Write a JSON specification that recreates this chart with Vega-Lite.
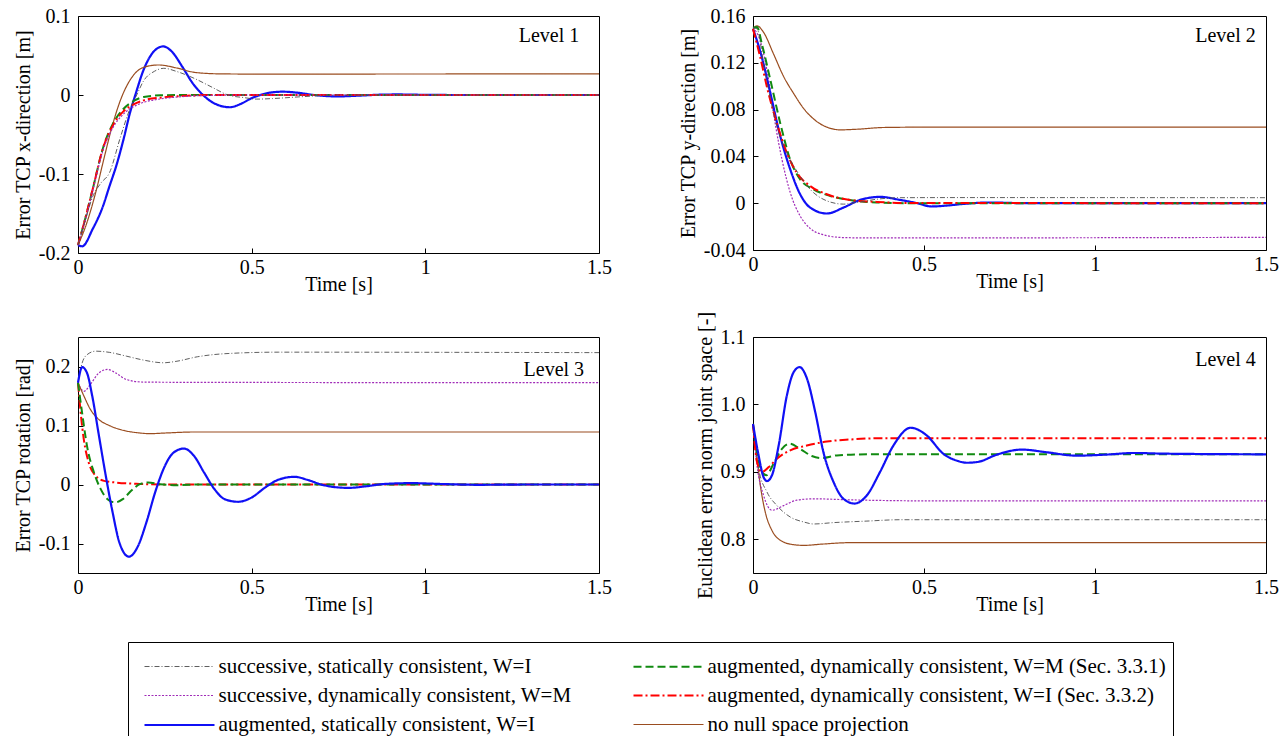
{
"$schema": "https://vega.github.io/schema/vega-lite/v6.json",
"padding": {"left": 12, "top": 5, "right": 0, "bottom": 0},
"bounds": "flush",
"columns": 2,
"spacing": {"column": 154, "row": 84},
"data": {"values": [
{"p":1,"s":"AS","t":0,"v":-0.19},{"p":1,"s":"AS","t":0.012,"v":-0.1915},{"p":1,"s":"AS","t":0.043,"v":-0.169},{"p":1,"s":"AS","t":0.07,"v":-0.143},{"p":1,"s":"AS","t":0.091,"v":-0.115},{"p":1,"s":"AS","t":0.11,"v":-0.09},{"p":1,"s":"AS","t":0.13,"v":-0.058},{"p":1,"s":"AS","t":0.15,"v":-0.022},{"p":1,"s":"AS","t":0.165,"v":0},{"p":1,"s":"AS","t":0.189,"v":0.032},{"p":1,"s":"AS","t":0.218,"v":0.055},{"p":1,"s":"AS","t":0.245,"v":0.0615},{"p":1,"s":"AS","t":0.27,"v":0.055},{"p":1,"s":"AS","t":0.3,"v":0.036},{"p":1,"s":"AS","t":0.33,"v":0.015},{"p":1,"s":"AS","t":0.36,"v":0},{"p":1,"s":"AS","t":0.39,"v":-0.01},{"p":1,"s":"AS","t":0.437,"v":-0.0155},{"p":1,"s":"AS","t":0.47,"v":-0.011},{"p":1,"s":"AS","t":0.5,"v":-0.004},{"p":1,"s":"AS","t":0.525,"v":0},{"p":1,"s":"AS","t":0.55,"v":0.0028},{"p":1,"s":"AS","t":0.59,"v":0.0042},{"p":1,"s":"AS","t":0.63,"v":0.003},{"p":1,"s":"AS","t":0.68,"v":0},{"p":1,"s":"AS","t":0.745,"v":-0.0018},{"p":1,"s":"AS","t":0.8,"v":-0.001},{"p":1,"s":"AS","t":0.87,"v":0.0004},{"p":1,"s":"AS","t":0.92,"v":0.0007},{"p":1,"s":"AS","t":1.0,"v":0.0002},{"p":1,"s":"AS","t":1.1,"v":0},{"p":1,"s":"AS","t":1.5,"v":0},
{"p":1,"s":"NN","t":0,"v":-0.19},{"p":1,"s":"NN","t":0.023,"v":-0.165},{"p":1,"s":"NN","t":0.05,"v":-0.125},{"p":1,"s":"NN","t":0.075,"v":-0.08},{"p":1,"s":"NN","t":0.095,"v":-0.045},{"p":1,"s":"NN","t":0.121,"v":-0.008},{"p":1,"s":"NN","t":0.15,"v":0.019},{"p":1,"s":"NN","t":0.189,"v":0.035},{"p":1,"s":"NN","t":0.232,"v":0.038},{"p":1,"s":"NN","t":0.286,"v":0.034},{"p":1,"s":"NN","t":0.335,"v":0.0287},{"p":1,"s":"NN","t":0.403,"v":0.0268},{"p":1,"s":"NN","t":0.5,"v":0.0265},{"p":1,"s":"NN","t":1.5,"v":0.0268},
{"p":1,"s":"AM","t":0,"v":-0.19},{"p":1,"s":"AM","t":0.02,"v":-0.158},{"p":1,"s":"AM","t":0.043,"v":-0.118},{"p":1,"s":"AM","t":0.072,"v":-0.067},{"p":1,"s":"AM","t":0.101,"v":-0.036},{"p":1,"s":"AM","t":0.13,"v":-0.018},{"p":1,"s":"AM","t":0.16,"v":-0.0076},{"p":1,"s":"AM","t":0.189,"v":-0.0025},{"p":1,"s":"AM","t":0.237,"v":-0.0004},{"p":1,"s":"AM","t":0.3,"v":0},{"p":1,"s":"AM","t":1.5,"v":0},
{"p":1,"s":"AI","t":0,"v":-0.19},{"p":1,"s":"AI","t":0.02,"v":-0.158},{"p":1,"s":"AI","t":0.043,"v":-0.118},{"p":1,"s":"AI","t":0.072,"v":-0.0675},{"p":1,"s":"AI","t":0.101,"v":-0.038},{"p":1,"s":"AI","t":0.13,"v":-0.021},{"p":1,"s":"AI","t":0.16,"v":-0.012},{"p":1,"s":"AI","t":0.189,"v":-0.0068},{"p":1,"s":"AI","t":0.237,"v":-0.0034},{"p":1,"s":"AI","t":0.286,"v":-0.0017},{"p":1,"s":"AI","t":0.4,"v":0},{"p":1,"s":"AI","t":1.5,"v":0},
{"p":1,"s":"SD","t":0,"v":-0.19},{"p":1,"s":"SD","t":0.02,"v":-0.16},{"p":1,"s":"SD","t":0.043,"v":-0.12},{"p":1,"s":"SD","t":0.072,"v":-0.07},{"p":1,"s":"SD","t":0.101,"v":-0.041},{"p":1,"s":"SD","t":0.13,"v":-0.0245},{"p":1,"s":"SD","t":0.16,"v":-0.0148},{"p":1,"s":"SD","t":0.189,"v":-0.0093},{"p":1,"s":"SD","t":0.237,"v":-0.005},{"p":1,"s":"SD","t":0.286,"v":-0.0025},{"p":1,"s":"SD","t":0.383,"v":-0.0004},{"p":1,"s":"SD","t":0.5,"v":0},{"p":1,"s":"SD","t":1.5,"v":0},
{"p":1,"s":"SS","t":0,"v":-0.19},{"p":1,"s":"SS","t":0.02,"v":-0.16},{"p":1,"s":"SS","t":0.043,"v":-0.128},{"p":1,"s":"SS","t":0.065,"v":-0.112},{"p":1,"s":"SS","t":0.091,"v":-0.098},{"p":1,"s":"SS","t":0.121,"v":-0.055},{"p":1,"s":"SS","t":0.15,"v":-0.017},{"p":1,"s":"SS","t":0.169,"v":0},{"p":1,"s":"SS","t":0.189,"v":0.018},{"p":1,"s":"SS","t":0.22,"v":0.03},{"p":1,"s":"SS","t":0.247,"v":0.0338},{"p":1,"s":"SS","t":0.286,"v":0.0295},{"p":1,"s":"SS","t":0.335,"v":0.021},{"p":1,"s":"SS","t":0.383,"v":0.0105},{"p":1,"s":"SS","t":0.432,"v":0},{"p":1,"s":"SS","t":0.48,"v":-0.0034},{"p":1,"s":"SS","t":0.515,"v":-0.0052},{"p":1,"s":"SS","t":0.56,"v":-0.0045},{"p":1,"s":"SS","t":0.65,"v":-0.002},{"p":1,"s":"SS","t":0.75,"v":0},{"p":1,"s":"SS","t":1.5,"v":0},
{"p":2,"s":"NN","t":0,"v":0.149},{"p":2,"s":"NN","t":0.012,"v":0.1516},{"p":2,"s":"NN","t":0.031,"v":0.146},{"p":2,"s":"NN","t":0.06,"v":0.1276},{"p":2,"s":"NN","t":0.09,"v":0.108},{"p":2,"s":"NN","t":0.119,"v":0.0937},{"p":2,"s":"NN","t":0.148,"v":0.081},{"p":2,"s":"NN","t":0.187,"v":0.0697},{"p":2,"s":"NN","t":0.226,"v":0.064},{"p":2,"s":"NN","t":0.255,"v":0.0627},{"p":2,"s":"NN","t":0.3035,"v":0.0632},{"p":2,"s":"NN","t":0.381,"v":0.0647},{"p":2,"s":"NN","t":0.5,"v":0.065},{"p":2,"s":"NN","t":1.5,"v":0.065},
{"p":2,"s":"SD","t":0,"v":0.15},{"p":2,"s":"SD","t":0.021,"v":0.139},{"p":2,"s":"SD","t":0.046,"v":0.105},{"p":2,"s":"SD","t":0.065,"v":0.068},{"p":2,"s":"SD","t":0.085,"v":0.037},{"p":2,"s":"SD","t":0.109,"v":0.009},{"p":2,"s":"SD","t":0.138,"v":-0.011},{"p":2,"s":"SD","t":0.167,"v":-0.0215},{"p":2,"s":"SD","t":0.206,"v":-0.027},{"p":2,"s":"SD","t":0.265,"v":-0.0294},{"p":2,"s":"SD","t":0.35,"v":-0.0297},{"p":2,"s":"SD","t":0.8,"v":-0.0296},{"p":2,"s":"SD","t":1.5,"v":-0.0292},
{"p":2,"s":"AS","t":0,"v":0.149},{"p":2,"s":"AS","t":0.021,"v":0.13},{"p":2,"s":"AS","t":0.051,"v":0.0937},{"p":2,"s":"AS","t":0.08,"v":0.057},{"p":2,"s":"AS","t":0.109,"v":0.0288},{"p":2,"s":"AS","t":0.138,"v":0.0076},{"p":2,"s":"AS","t":0.167,"v":-0.0037},{"p":2,"s":"AS","t":0.216,"v":-0.0088},{"p":2,"s":"AS","t":0.265,"v":-0.0037},{"p":2,"s":"AS","t":0.313,"v":0.0028},{"p":2,"s":"AS","t":0.372,"v":0.0054},{"p":2,"s":"AS","t":0.43,"v":0.0028},{"p":2,"s":"AS","t":0.48,"v":0},{"p":2,"s":"AS","t":0.522,"v":-0.0028},{"p":2,"s":"AS","t":0.56,"v":-0.0022},{"p":2,"s":"AS","t":0.62,"v":-0.0005},{"p":2,"s":"AS","t":0.69,"v":0.0006},{"p":2,"s":"AS","t":0.8,"v":0},{"p":2,"s":"AS","t":1.5,"v":0},
{"p":2,"s":"AM","t":0,"v":0.15},{"p":2,"s":"AM","t":0.012,"v":0.1505},{"p":2,"s":"AM","t":0.026,"v":0.136},{"p":2,"s":"AM","t":0.051,"v":0.105},{"p":2,"s":"AM","t":0.08,"v":0.068},{"p":2,"s":"AM","t":0.109,"v":0.037},{"p":2,"s":"AM","t":0.138,"v":0.0203},{"p":2,"s":"AM","t":0.177,"v":0.0119},{"p":2,"s":"AM","t":0.226,"v":0.0062},{"p":2,"s":"AM","t":0.284,"v":0.0028},{"p":2,"s":"AM","t":0.362,"v":0.0006},{"p":2,"s":"AM","t":0.45,"v":0},{"p":2,"s":"AM","t":1.5,"v":0},
{"p":2,"s":"AI","t":0,"v":0.149},{"p":2,"s":"AI","t":0.021,"v":0.125},{"p":2,"s":"AI","t":0.041,"v":0.099},{"p":2,"s":"AI","t":0.07,"v":0.068},{"p":2,"s":"AI","t":0.099,"v":0.043},{"p":2,"s":"AI","t":0.128,"v":0.026},{"p":2,"s":"AI","t":0.167,"v":0.0147},{"p":2,"s":"AI","t":0.216,"v":0.0076},{"p":2,"s":"AI","t":0.284,"v":0.0028},{"p":2,"s":"AI","t":0.362,"v":0.0011},{"p":2,"s":"AI","t":0.45,"v":0.0002},{"p":2,"s":"AI","t":1.5,"v":0},
{"p":2,"s":"SS","t":0,"v":0.15},{"p":2,"s":"SS","t":0.012,"v":0.149},{"p":2,"s":"SS","t":0.031,"v":0.119},{"p":2,"s":"SS","t":0.07,"v":0.0655},{"p":2,"s":"SS","t":0.099,"v":0.043},{"p":2,"s":"SS","t":0.138,"v":0.023},{"p":2,"s":"SS","t":0.167,"v":0.0119},{"p":2,"s":"SS","t":0.216,"v":0.002},{"p":2,"s":"SS","t":0.265,"v":-0.0008},{"p":2,"s":"SS","t":0.3035,"v":0.0006},{"p":2,"s":"SS","t":0.362,"v":0.0034},{"p":2,"s":"SS","t":0.43,"v":0.0047},{"p":2,"s":"SS","t":0.6,"v":0.0048},{"p":2,"s":"SS","t":1.5,"v":0.0047},
{"p":3,"s":"SS","t":0,"v":0.1725},{"p":3,"s":"SS","t":0.012,"v":0.206},{"p":3,"s":"SS","t":0.026,"v":0.22},{"p":3,"s":"SS","t":0.051,"v":0.226},{"p":3,"s":"SS","t":0.09,"v":0.224},{"p":3,"s":"SS","t":0.139,"v":0.2176},{"p":3,"s":"SS","t":0.1875,"v":0.211},{"p":3,"s":"SS","t":0.246,"v":0.2063},{"p":3,"s":"SS","t":0.285,"v":0.209},{"p":3,"s":"SS","t":0.344,"v":0.2165},{"p":3,"s":"SS","t":0.432,"v":0.222},{"p":3,"s":"SS","t":0.578,"v":0.2243},{"p":3,"s":"SS","t":1.5,"v":0.2235},
{"p":3,"s":"SD","t":0,"v":0.1725},{"p":3,"s":"SD","t":0.017,"v":0.158},{"p":3,"s":"SD","t":0.036,"v":0.17},{"p":3,"s":"SD","t":0.06,"v":0.189},{"p":3,"s":"SD","t":0.085,"v":0.195},{"p":3,"s":"SD","t":0.109,"v":0.189},{"p":3,"s":"SD","t":0.139,"v":0.178},{"p":3,"s":"SD","t":0.1875,"v":0.1736},{"p":3,"s":"SD","t":0.3,"v":0.1732},{"p":3,"s":"SD","t":1.5,"v":0.1725},
{"p":3,"s":"NN","t":0,"v":0.1725},{"p":3,"s":"NN","t":0.017,"v":0.15},{"p":3,"s":"NN","t":0.036,"v":0.127},{"p":3,"s":"NN","t":0.0605,"v":0.11},{"p":3,"s":"NN","t":0.09,"v":0.1},{"p":3,"s":"NN","t":0.129,"v":0.092},{"p":3,"s":"NN","t":0.168,"v":0.088},{"p":3,"s":"NN","t":0.207,"v":0.0862},{"p":3,"s":"NN","t":0.256,"v":0.0874},{"p":3,"s":"NN","t":0.334,"v":0.089},{"p":3,"s":"NN","t":1.5,"v":0.089},
{"p":3,"s":"AI","t":0,"v":0.1725},{"p":3,"s":"AI","t":0.0068,"v":0.127},{"p":3,"s":"AI","t":0.0166,"v":0.077},{"p":3,"s":"AI","t":0.031,"v":0.037},{"p":3,"s":"AI","t":0.051,"v":0.0147},{"p":3,"s":"AI","t":0.075,"v":0.0062},{"p":3,"s":"AI","t":0.109,"v":0.0034},{"p":3,"s":"AI","t":0.168,"v":0.0011},{"p":3,"s":"AI","t":0.25,"v":0},{"p":3,"s":"AI","t":1.5,"v":0},
{"p":3,"s":"AM","t":0,"v":0.1725},{"p":3,"s":"AM","t":0.0117,"v":0.122},{"p":3,"s":"AM","t":0.026,"v":0.065},{"p":3,"s":"AM","t":0.046,"v":0.0203},{"p":3,"s":"AM","t":0.0654,"v":-0.0079},{"p":3,"s":"AM","t":0.085,"v":-0.0248},{"p":3,"s":"AM","t":0.107,"v":-0.0304},{"p":3,"s":"AM","t":0.129,"v":-0.0248},{"p":3,"s":"AM","t":0.153,"v":-0.0107},{"p":3,"s":"AM","t":0.178,"v":0.0006},{"p":3,"s":"AM","t":0.202,"v":0.0034},{"p":3,"s":"AM","t":0.236,"v":0.0006},{"p":3,"s":"AM","t":0.285,"v":-0.0011},{"p":3,"s":"AM","t":0.35,"v":0},{"p":3,"s":"AM","t":1.5,"v":0},
{"p":3,"s":"AS","t":0,"v":0.1725},{"p":3,"s":"AS","t":0.012,"v":0.199},{"p":3,"s":"AS","t":0.026,"v":0.189},{"p":3,"s":"AS","t":0.041,"v":0.15},{"p":3,"s":"AS","t":0.0605,"v":0.082},{"p":3,"s":"AS","t":0.08,"v":0.0147},{"p":3,"s":"AS","t":0.0996,"v":-0.047},{"p":3,"s":"AS","t":0.119,"v":-0.098},{"p":3,"s":"AS","t":0.1465,"v":-0.1223},{"p":3,"s":"AS","t":0.173,"v":-0.104},{"p":3,"s":"AS","t":0.197,"v":-0.064},{"p":3,"s":"AS","t":0.222,"v":-0.0135},{"p":3,"s":"AS","t":0.246,"v":0.026},{"p":3,"s":"AS","t":0.275,"v":0.054},{"p":3,"s":"AS","t":0.305,"v":0.0609},{"p":3,"s":"AS","t":0.334,"v":0.0485},{"p":3,"s":"AS","t":0.363,"v":0.0203},{"p":3,"s":"AS","t":0.393,"v":-0.0079},{"p":3,"s":"AS","t":0.422,"v":-0.0248},{"p":3,"s":"AS","t":0.461,"v":-0.0293},{"p":3,"s":"AS","t":0.5,"v":-0.022},{"p":3,"s":"AS","t":0.539,"v":-0.005},{"p":3,"s":"AS","t":0.576,"v":0.0079},{"p":3,"s":"AS","t":0.623,"v":0.013},{"p":3,"s":"AS","t":0.66,"v":0.008},{"p":3,"s":"AS","t":0.7,"v":0},{"p":3,"s":"AS","t":0.74,"v":-0.0045},{"p":3,"s":"AS","t":0.78,"v":-0.0057},{"p":3,"s":"AS","t":0.83,"v":-0.003},{"p":3,"s":"AS","t":0.88,"v":0.0008},{"p":3,"s":"AS","t":0.96,"v":0.0023},{"p":3,"s":"AS","t":1.05,"v":0.0008},{"p":3,"s":"AS","t":1.15,"v":-0.0005},{"p":3,"s":"AS","t":1.3,"v":0},{"p":3,"s":"AS","t":1.5,"v":0},
{"p":4,"s":"NN","t":0,"v":0.971},{"p":4,"s":"NN","t":0.0097,"v":0.929},{"p":4,"s":"NN","t":0.0214,"v":0.88},{"p":4,"s":"NN","t":0.036,"v":0.84},{"p":4,"s":"NN","t":0.0555,"v":0.813},{"p":4,"s":"NN","t":0.08,"v":0.7985},{"p":4,"s":"NN","t":0.119,"v":0.792},{"p":4,"s":"NN","t":0.148,"v":0.791},{"p":4,"s":"NN","t":0.206,"v":0.793},{"p":4,"s":"NN","t":0.284,"v":0.795},{"p":4,"s":"NN","t":1.5,"v":0.795},
{"p":4,"s":"SS","t":0,"v":0.971},{"p":4,"s":"SS","t":0.0165,"v":0.9047},{"p":4,"s":"SS","t":0.041,"v":0.87},{"p":4,"s":"SS","t":0.07,"v":0.85},{"p":4,"s":"SS","t":0.109,"v":0.833},{"p":4,"s":"SS","t":0.148,"v":0.8257},{"p":4,"s":"SS","t":0.177,"v":0.8227},{"p":4,"s":"SS","t":0.235,"v":0.8247},{"p":4,"s":"SS","t":0.333,"v":0.827},{"p":4,"s":"SS","t":0.43,"v":0.829},{"p":4,"s":"SS","t":1.5,"v":0.829},
{"p":4,"s":"SD","t":0,"v":0.971},{"p":4,"s":"SD","t":0.0117,"v":0.91},{"p":4,"s":"SD","t":0.031,"v":0.865},{"p":4,"s":"SD","t":0.0555,"v":0.843},{"p":4,"s":"SD","t":0.0895,"v":0.85},{"p":4,"s":"SD","t":0.128,"v":0.858},{"p":4,"s":"SD","t":0.177,"v":0.86},{"p":4,"s":"SD","t":0.284,"v":0.8585},{"p":4,"s":"SD","t":0.5,"v":0.857},{"p":4,"s":"SD","t":1.5,"v":0.857},
{"p":4,"s":"AM","t":0,"v":0.971},{"p":4,"s":"AM","t":0.0117,"v":0.929},{"p":4,"s":"AM","t":0.026,"v":0.9},{"p":4,"s":"AM","t":0.039,"v":0.895},{"p":4,"s":"AM","t":0.06,"v":0.912},{"p":4,"s":"AM","t":0.0846,"v":0.934},{"p":4,"s":"AM","t":0.107,"v":0.9417},{"p":4,"s":"AM","t":0.138,"v":0.934},{"p":4,"s":"AM","t":0.172,"v":0.9235},{"p":4,"s":"AM","t":0.2014,"v":0.9205},{"p":4,"s":"AM","t":0.245,"v":0.9244},{"p":4,"s":"AM","t":0.333,"v":0.926},{"p":4,"s":"AM","t":1.5,"v":0.926},
{"p":4,"s":"AI","t":0,"v":0.971},{"p":4,"s":"AI","t":0.0117,"v":0.9146},{"p":4,"s":"AI","t":0.026,"v":0.9},{"p":4,"s":"AI","t":0.0457,"v":0.907},{"p":4,"s":"AI","t":0.07,"v":0.9195},{"p":4,"s":"AI","t":0.109,"v":0.932},{"p":4,"s":"AI","t":0.1576,"v":0.939},{"p":4,"s":"AI","t":0.216,"v":0.945},{"p":4,"s":"AI","t":0.284,"v":0.948},{"p":4,"s":"AI","t":0.381,"v":0.95},{"p":4,"s":"AI","t":1.5,"v":0.95},
{"p":4,"s":"AS","t":0,"v":0.971},{"p":4,"s":"AS","t":0.0165,"v":0.924},{"p":4,"s":"AS","t":0.031,"v":0.892},{"p":4,"s":"AS","t":0.041,"v":0.8864},{"p":4,"s":"AS","t":0.0555,"v":0.895},{"p":4,"s":"AS","t":0.075,"v":0.939},{"p":4,"s":"AS","t":0.099,"v":1.0133},{"p":4,"s":"AS","t":0.119,"v":1.048},{"p":4,"s":"AS","t":0.136,"v":1.0553},{"p":4,"s":"AS","t":0.158,"v":1.038},{"p":4,"s":"AS","t":0.182,"v":0.9886},{"p":4,"s":"AS","t":0.206,"v":0.929},{"p":4,"s":"AS","t":0.2354,"v":0.885},{"p":4,"s":"AS","t":0.2646,"v":0.86},{"p":4,"s":"AS","t":0.2967,"v":0.853},{"p":4,"s":"AS","t":0.3327,"v":0.865},{"p":4,"s":"AS","t":0.3716,"v":0.9},{"p":4,"s":"AS","t":0.4105,"v":0.939},{"p":4,"s":"AS","t":0.461,"v":0.9654},{"p":4,"s":"AS","t":0.508,"v":0.954},{"p":4,"s":"AS","t":0.556,"v":0.927},{"p":4,"s":"AS","t":0.6,"v":0.916},{"p":4,"s":"AS","t":0.625,"v":0.9135},{"p":4,"s":"AS","t":0.66,"v":0.915},{"p":4,"s":"AS","t":0.71,"v":0.925},{"p":4,"s":"AS","t":0.786,"v":0.933},{"p":4,"s":"AS","t":0.86,"v":0.929},{"p":4,"s":"AS","t":0.946,"v":0.924},{"p":4,"s":"AS","t":1.03,"v":0.9255},{"p":4,"s":"AS","t":1.117,"v":0.928},{"p":4,"s":"AS","t":1.2,"v":0.927},{"p":4,"s":"AS","t":1.5,"v":0.926}
]},
"concat": [
{"width": 521, "height": 237,
 "layer": [
  {"transform": [{"filter": "datum.p == 1"}],
   "mark": {"type": "line", "interpolate": "monotone"},
   "encoding": {
    "x": {"field": "t", "type": "quantitative", "scale": {"domain": [0, 1.5], "nice": false}, "axis": {"title": "Time [s]", "values": [0, 0.5, 1, 1.5], "labelExpr": "format(datum.value, '~g')"}},
    "y": {"field": "v", "type": "quantitative", "scale": {"domain": [-0.2, 0.1], "nice": false, "zero": false}, "axis": {"title": "Error TCP x-direction [m]", "values": [-0.2, -0.1, 0, 0.1], "labelExpr": "replace(format(datum.value, '~g'), '−', '-')"}},
    "color": {"field": "s", "type": "nominal", "scale": {"domain": ["SS","SD","AS","AM","AI","NN"], "range": ["#4d4d4d","#a02cb8","#1010f5","#118a11","#ff0000","#9a4d20"]}, "legend": {"labelExpr": "datum.label == 'SS' ? 'successive, statically consistent, W=I' : datum.label == 'SD' ? 'successive, dynamically consistent, W=M' : datum.label == 'AS' ? 'augmented, statically consistent, W=I' : datum.label == 'AM' ? 'augmented, dynamically consistent, W=M (Sec. 3.3.1)' : datum.label == 'AI' ? 'augmented, dynamically consistent, W=I (Sec. 3.3.2)' : 'no null space projection'"}, "title": null},
    "strokeDash": {"field": "s", "type": "nominal", "scale": {"domain": ["SS","SD","AS","AM","AI","NN"], "range": [[5,2,1,2],[2,1.5],[1,0],[8,4],[9,3,2,3],[1,0]]}, "title": null},
    "strokeWidth": {"field": "s", "type": "nominal", "scale": {"type": "ordinal", "domain": ["SS","SD","AS","AM","AI","NN"], "range": [0.9,1.2,2.2,2,2,1.2]}, "title": null}
   }},
  {"data": {"values": [{"lab": "Level 1"}]}, "mark": {"type": "text", "align": "right", "baseline": "middle", "fontSize": 20, "font": "Liberation Serif"}, "encoding": {"text": {"field": "lab"}, "x": {"datum": 1.443}, "y": {"datum": 0.075}}}
 ]},
{"width": 513, "height": 234,
 "layer": [
  {"transform": [{"filter": "datum.p == 2"}],
   "mark": {"type": "line", "interpolate": "monotone"},
   "encoding": {
    "x": {"field": "t", "type": "quantitative", "scale": {"domain": [0, 1.5], "nice": false}, "axis": {"title": "Time [s]", "values": [0, 0.5, 1, 1.5], "labelExpr": "format(datum.value, '~g')"}},
    "y": {"field": "v", "type": "quantitative", "scale": {"domain": [-0.04, 0.16], "nice": false, "zero": false}, "axis": {"title": "Error TCP y-direction [m]", "values": [-0.04, 0, 0.04, 0.08, 0.12, 0.16], "labelExpr": "replace(format(datum.value, '~g'), '−', '-')"}},
    "color": {"field": "s", "type": "nominal", "scale": {"domain": ["SS","SD","AS","AM","AI","NN"], "range": ["#4d4d4d","#a02cb8","#1010f5","#118a11","#ff0000","#9a4d20"]}, "title": null},
    "strokeDash": {"field": "s", "type": "nominal", "scale": {"domain": ["SS","SD","AS","AM","AI","NN"], "range": [[5,2,1,2],[2,1.5],[1,0],[8,4],[9,3,2,3],[1,0]]}, "title": null},
    "strokeWidth": {"field": "s", "type": "nominal", "scale": {"type": "ordinal", "domain": ["SS","SD","AS","AM","AI","NN"], "range": [0.9,1.2,2.2,2,2,1.2]}, "title": null}
   }},
  {"data": {"values": [{"lab": "Level 2"}]}, "mark": {"type": "text", "align": "right", "baseline": "middle", "fontSize": 20, "font": "Liberation Serif"}, "encoding": {"text": {"field": "lab"}, "x": {"datum": 1.47}, "y": {"datum": 0.143}}}
 ]},
{"width": 521, "height": 236,
 "layer": [
  {"transform": [{"filter": "datum.p == 3"}],
   "mark": {"type": "line", "interpolate": "monotone"},
   "encoding": {
    "x": {"field": "t", "type": "quantitative", "scale": {"domain": [0, 1.5], "nice": false}, "axis": {"title": "Time [s]", "values": [0, 0.5, 1, 1.5], "labelExpr": "format(datum.value, '~g')"}},
    "y": {"field": "v", "type": "quantitative", "scale": {"domain": [-0.15, 0.25], "nice": false, "zero": false}, "axis": {"title": "Error TCP rotation [rad]", "values": [-0.1, -0.05, 0, 0.05, 0.1, 0.15, 0.2], "labelExpr": "abs(datum.value * 10 - round(datum.value * 10)) > 0.01 ? '' : replace(format(datum.value, '~g'), '−', '-')"}},
    "color": {"field": "s", "type": "nominal", "scale": {"domain": ["SS","SD","AS","AM","AI","NN"], "range": ["#4d4d4d","#a02cb8","#1010f5","#118a11","#ff0000","#9a4d20"]}, "title": null},
    "strokeDash": {"field": "s", "type": "nominal", "scale": {"domain": ["SS","SD","AS","AM","AI","NN"], "range": [[5,2,1,2],[2,1.5],[1,0],[8,4],[9,3,2,3],[1,0]]}, "title": null},
    "strokeWidth": {"field": "s", "type": "nominal", "scale": {"type": "ordinal", "domain": ["SS","SD","AS","AM","AI","NN"], "range": [0.9,1.2,2.2,2,2,1.2]}, "title": null}
   }},
  {"data": {"values": [{"lab": "Level 3"}]}, "mark": {"type": "text", "align": "right", "baseline": "middle", "fontSize": 20, "font": "Liberation Serif"}, "encoding": {"text": {"field": "lab"}, "x": {"datum": 1.457}, "y": {"datum": 0.194}}}
 ]},
{"width": 513, "height": 236,
 "layer": [
  {"transform": [{"filter": "datum.p == 4"}],
   "mark": {"type": "line", "interpolate": "monotone"},
   "encoding": {
    "x": {"field": "t", "type": "quantitative", "scale": {"domain": [0, 1.5], "nice": false}, "axis": {"title": "Time [s]", "values": [0, 0.5, 1, 1.5], "labelExpr": "format(datum.value, '~g')"}},
    "y": {"field": "v", "type": "quantitative", "scale": {"domain": [0.75, 1.1], "nice": false, "zero": false}, "axis": {"title": "Euclidean error norm joint space [-]", "values": [0.8, 0.9, 1.0, 1.1], "format": ".1f"}},
    "color": {"field": "s", "type": "nominal", "scale": {"domain": ["SS","SD","AS","AM","AI","NN"], "range": ["#4d4d4d","#a02cb8","#1010f5","#118a11","#ff0000","#9a4d20"]}, "title": null},
    "strokeDash": {"field": "s", "type": "nominal", "scale": {"domain": ["SS","SD","AS","AM","AI","NN"], "range": [[5,2,1,2],[2,1.5],[1,0],[8,4],[9,3,2,3],[1,0]]}, "title": null},
    "strokeWidth": {"field": "s", "type": "nominal", "scale": {"type": "ordinal", "domain": ["SS","SD","AS","AM","AI","NN"], "range": [0.9,1.2,2.2,2,2,1.2]}, "title": null}
   }},
  {"data": {"values": [{"lab": "Level 4"}]}, "mark": {"type": "text", "align": "right", "baseline": "middle", "fontSize": 20, "font": "Liberation Serif"}, "encoding": {"text": {"field": "lab"}, "x": {"datum": 1.47}, "y": {"datum": 1.066}}}
 ]}
],
"config": {
 "font": "Liberation Serif",
 "view": {"stroke": "black", "strokeWidth": 1},
 "axis": {"grid": false, "domain": false, "tickSize": -5, "tickColor": "black", "labelFontSize": 20, "labelColor": "black", "labelFont": "Liberation Serif", "titleFont": "Liberation Serif", "titleFontSize": 20, "titleFontWeight": "normal", "titleColor": "black", "labelFlush": false, "labelOverlap": false},
 "axisX": {"labelPadding": 9, "titlePadding": -3},
 "axisY": {"labelPadding": 13, "titlePadding": 5},
 "legend": {"orient": "none", "legendX": 50, "legendY": 626, "columns": 2, "symbolType": "M-2,0H2", "symbolSize": 1225, "symbolOffset": 26.5, "labelOffset": 20, "labelFontSize": 21, "labelFont": "Liberation Serif", "labelColor": "black", "labelLimit": 700, "strokeColor": "black", "padding": 6, "columnPadding": 51, "rowPadding": -2}
}
}
